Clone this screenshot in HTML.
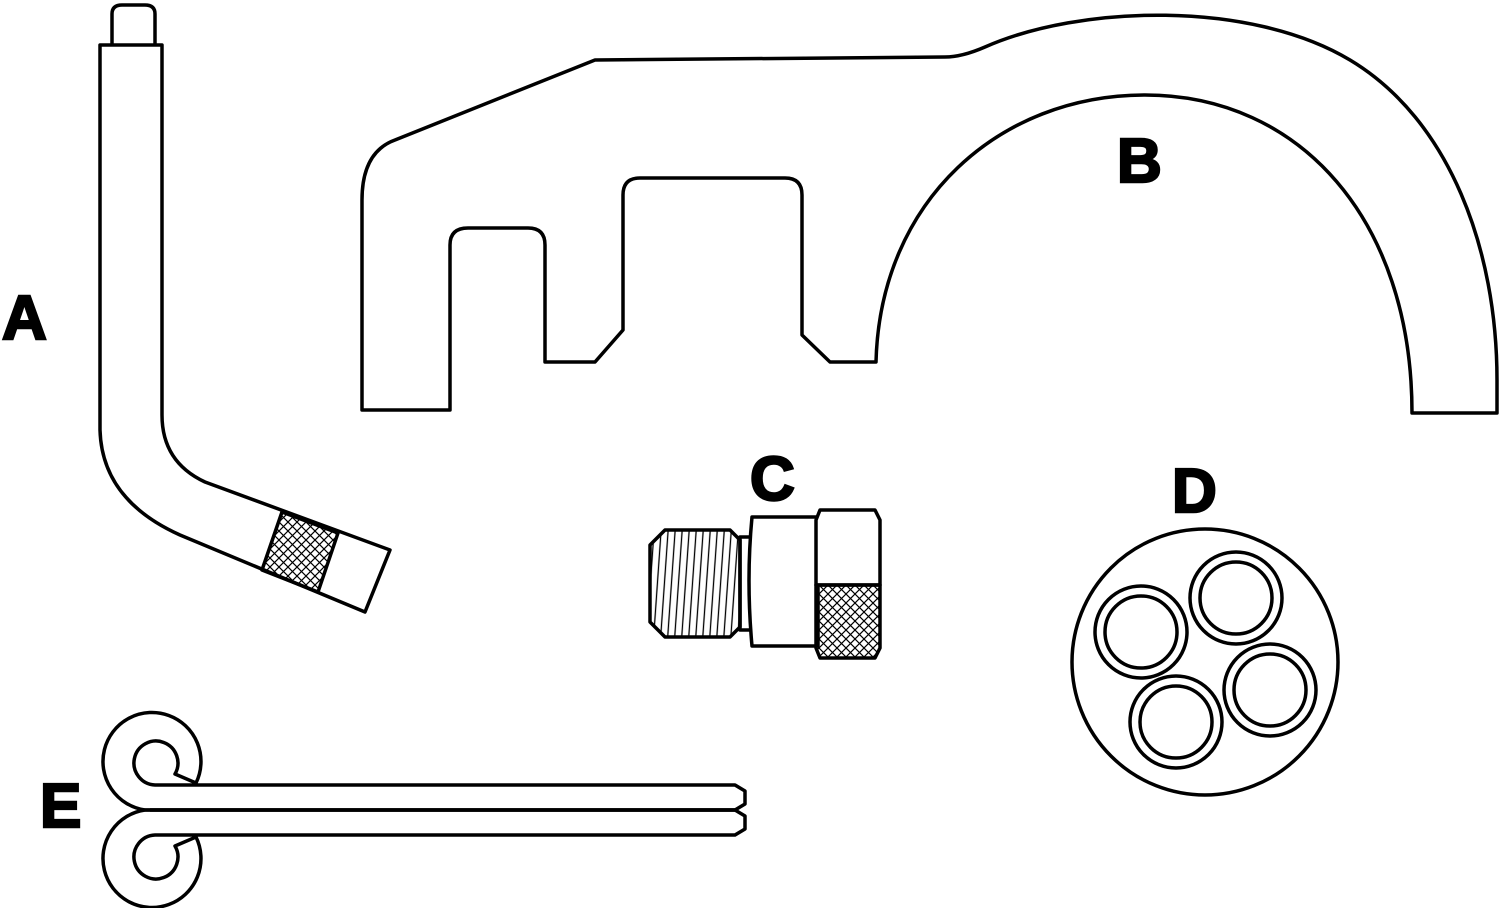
<!DOCTYPE html>
<html><head><meta charset="utf-8"><style>
html,body{margin:0;padding:0;background:#fff;}
svg{display:block;}
text{font-family:"Liberation Sans",sans-serif;font-weight:900;fill:#000;stroke:#000;stroke-width:2.5;}
</style></head><body>
<svg width="1500" height="908" viewBox="0 0 1500 908" xmlns="http://www.w3.org/2000/svg">
<defs>
<pattern id="knurl" width="9" height="9" patternUnits="userSpaceOnUse">
<path d="M0,0 L9,9 M9,0 L0,9" stroke="#000" stroke-width="1.2"/>
</pattern>
<pattern id="thread" width="7" height="10" patternUnits="userSpaceOnUse" patternTransform="rotate(4)">
<path d="M3.5,0 L3.5,10" stroke="#000" stroke-width="1.3"/>
</pattern>
</defs>
<g fill="none" stroke="#000" stroke-width="3.5" stroke-linejoin="round">
<!-- A -->
<path d="M112,45 L112,14 Q112,5 122,5 L145,5 Q155,5 155,14 L155,45" fill="#fff"/>
<path d="M100,45 L100,430 Q102,500 180,535 L365,612 L390,550 L205,482 Q162,462 162,415 L162,45 Z" fill="#fff"/>
<polygon points="282,512 338,533 318,592 262,570" fill="url(#knurl)"/>
<!-- B -->
<path d="M362,410 L362,200 Q362,152 395,140 L595,60 L945,57 Q962,57 985,47 C1080,5 1250,0 1350,60 C1450,120 1497,250 1497,380 L1497,413 L1412,413 C1412,220 1300,95 1145,95 C1000,95 880,200 876,362 L830,362 L802,335 L802,195 Q802,178 785,178 L640,178 Q623,178 623,195 L623,330 L595,362 L545,362 L545,245 Q545,228 528,228 L468,228 Q450,228 450,245 L450,410 Z"/>
<!-- C -->
<path d="M740,537 L752,537 L752,630 L740,630 Z" fill="#fff"/>
<path d="M665,530 L730,530 L740,540 L740,627 L730,637 L665,637 L650,622 L650,545 Z" fill="url(#thread)"/>
<path d="M752,517 L818,517 L818,646 L752,646 Q746,580 752,517 Z" fill="#fff"/>
<path d="M820,510 L875,510 L880,520 L880,585 L816,585 L816,520 Z" fill="#fff"/>
<path d="M816,585 L880,585 L880,648 L875,658 L820,658 L816,648 Z" fill="url(#knurl)"/>
<!-- D -->
<circle cx="1205" cy="662" r="133"/>
<circle cx="1141" cy="632" r="46"/><circle cx="1141" cy="632" r="36"/>
<circle cx="1236" cy="598" r="46"/><circle cx="1236" cy="598" r="36"/>
<circle cx="1270" cy="690" r="46"/><circle cx="1270" cy="690" r="36"/>
<circle cx="1176" cy="722" r="46"/><circle cx="1176" cy="722" r="36"/>
<!-- E -->
<path d="M145,810 A49,49 0 1 1 196,783 L175,774 A22,22 0 1 0 155,785 L735,785 L745,791 L745,804 L735,810 Z"/>
<path d="M145,810 A49,49 0 1 0 196,837 L175,846 A22,22 0 1 1 155,835 L735,835 L745,829 L745,816 L735,810 Z"/>
<line x1="150" y1="810" x2="735" y2="810"/>
</g>
<text x="2" y="339" font-size="62">A</text>
<text x="1117" y="182" font-size="62">B</text>
<text x="750" y="500" font-size="62">C</text>
<text x="1172" y="512" font-size="62">D</text>
<text x="40" y="827" font-size="62">E</text>
</svg>
</body></html>
